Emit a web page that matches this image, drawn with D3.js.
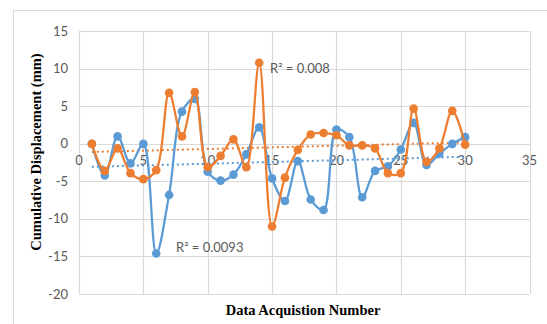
<!DOCTYPE html>
<html><head><meta charset="utf-8">
<script src="https://cdn.jsdelivr.net/npm/d3@7"></script>
<style>body{margin:0;background:#fff;}svg{display:block;}</style>
</head><body>
<script>
const xValues = [1,2,3,4,5,6,7,8,9,10,11,12,13,14,15,16,17,18,19,20,21,22,23,24,25,26,27,28,29,30];
const seriesBlue = [0,-4.2,1.0,-2.6,0.0,-14.6,-6.8,4.3,6.0,-3.7,-4.9,-4.1,-1.4,2.2,-4.6,-7.6,-2.3,-7.4,-8.8,1.9,0.9,-7.1,-3.6,-3.0,-0.75,2.8,-2.8,-1.3,0.0,0.9];
const seriesOrange = [0,-3.6,-0.6,-3.9,-4.7,-3.5,6.8,1.0,6.9,-3.1,-1.6,0.6,-3.1,10.8,-11.0,-4.5,-0.8,1.25,1.45,1.15,-0.2,-0.2,-0.6,-3.9,-3.9,4.7,-2.4,-0.6,4.4,-0.1];
const xTicks = [0,5,10,15,20,25,30,35];
const yTicks = [15,10,5,0,-5,-10,-15,-20];
const r2Labels = ["R\u00b2 = 0.008","R\u00b2 = 0.0093"];
const xTitle = "Data Acquistion Number";
const yTitle = "Cumulative Displacement (mm)";

const W=547,H=324;
const svg=d3.select("body").append("svg").attr("width",W).attr("height",H);
svg.append("rect").attr("x",13.5).attr("y",10.5).attr("width",700).attr("height",400)
  .attr("fill","none").attr("stroke","#d9d9d9");

const x=d3.scaleLinear().domain([0,35]).range([79,529.5]);
const y=d3.scaleLinear().domain([-20,15]).range([294,31.3]);
const grid="#d9d9d9", txt="#595959";

svg.append("g").selectAll("line").data(yTicks).join("line")
  .attr("x1",x(0)).attr("x2",x(35)).attr("y1",d=>Math.round(y(d))+0.5).attr("y2",d=>Math.round(y(d))+0.5)
  .attr("stroke",grid).attr("stroke-width",1.2);
svg.append("g").selectAll("line").data(xTicks).join("line")
  .attr("y1",y(15)).attr("y2",y(-20)).attr("x1",d=>Math.round(x(d))+0.5).attr("x2",d=>Math.round(x(d))+0.5)
  .attr("stroke",grid).attr("stroke-width",1.2);

svg.append("g").selectAll("text").data(yTicks).join("text")
  .attr("x",68).attr("y",d=>y(d)).attr("dy","0.35em").attr("text-anchor","end")
  .attr("font-family","Lato, 'Open Sans', sans-serif").attr("font-size",13).attr("fill",txt).text(d=>d);
svg.append("g").selectAll("text").data(xTicks).join("text")
  .attr("x",d=>x(d)).attr("y",y(0)+21).attr("text-anchor","middle")
  .attr("font-family","Lato, 'Open Sans', sans-serif").attr("font-size",13).attr("fill",txt).text(d=>d);

function trend(vals){
  const n=xValues.length, mx=d3.mean(xValues), my=d3.mean(vals);
  let sxy=0,sxx=0; xValues.forEach((xv,i)=>{sxy+=(xv-mx)*(vals[i]-my);sxx+=(xv-mx)*(xv-mx);});
  const b=sxy/sxx,a=my-b*mx;
  return [[xValues[0],a+b*xValues[0]],[xValues[n-1],a+b*xValues[n-1]]];
}
const series=[{v:seriesBlue,c:"#5b9bd5"},{v:seriesOrange,c:"#ed7d31"}];
series.forEach(s=>{
  const t=trend(s.v);
  svg.append("line").attr("x1",x(t[0][0])).attr("y1",y(t[0][1])).attr("x2",x(t[1][0])).attr("y2",y(t[1][1]))
    .attr("stroke",s.c).attr("stroke-width",2).attr("stroke-dasharray","2,3");
});
const line=d3.line().x((d,i)=>x(xValues[i])).y(d=>y(d)).curve(d3.curveCatmullRom.alpha(0.5));
series.forEach(s=>{
  svg.append("path").attr("d",line(s.v)).attr("fill","none").attr("stroke",s.c).attr("stroke-width",2.25);
  svg.append("g").selectAll("circle").data(s.v).join("circle")
    .attr("cx",(d,i)=>x(xValues[i])).attr("cy",d=>y(d)).attr("r",4.3).attr("fill",s.c);
});

svg.append("text").attr("x",270).attr("y",73).attr("font-family","Lato, 'Open Sans', sans-serif")
  .attr("font-size",13).attr("fill",txt).text(r2Labels[0]);
svg.append("text").attr("x",176).attr("y",252).attr("font-family","Lato, 'Open Sans', sans-serif")
  .attr("font-size",13).attr("fill",txt).text(r2Labels[1]);

svg.append("text").attr("x",303).attr("y",315).attr("text-anchor","middle")
  .attr("font-family","'Liberation Serif', serif").attr("font-weight","bold").attr("font-size",14.5).attr("fill","#000").text(xTitle);
svg.append("text").attr("transform","translate(41,152) rotate(-90)").attr("text-anchor","middle")
  .attr("font-family","'Liberation Serif', serif").attr("font-weight","bold").attr("font-size",14.5).attr("fill","#000").text(yTitle);
</script>
</body></html>
